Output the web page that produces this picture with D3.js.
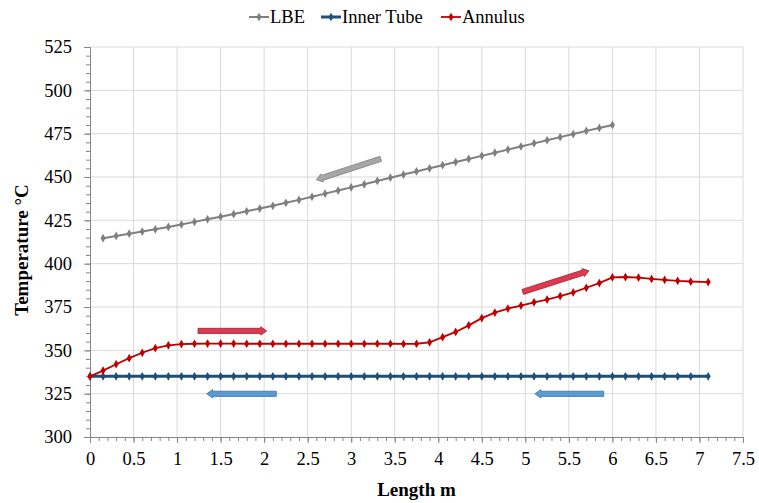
<!DOCTYPE html>
<html lang="en">
    <head>
        <meta charset="utf-8">
        <title>Temperature along length</title>
        <script src="https://d3js.org/d3.v7.min.js"></script>
        <style type="text/css">
          body { margin: 0; background: #fff; }
          svg { display: block; }
          text { font-family: "Liberation Serif", "Times New Roman", serif; fill: #000; }
          .grid line { stroke: #d9d9d9; stroke-width: 1; }
          .axis path, .axis line { stroke: #868686; }
          .axis-title { font-weight: bold; font-size: 19px; }
        </style>
    </head>
    <body>
        <script type="text/javascript">

         // lengths (m) and temperatures (°C)
         var lbeX = [0.15, 0.30, 0.45, 0.60, 0.75, 0.90, 1.05, 1.20, 1.35, 1.50,
                     1.65, 1.80, 1.95, 2.10, 2.25, 2.40, 2.55, 2.70, 2.85, 3.00,
                     3.15, 3.30, 3.45, 3.60, 3.75, 3.90, 4.05, 4.20, 4.35, 4.50,
                     4.65, 4.80, 4.95, 5.10, 5.25, 5.40, 5.55, 5.70, 5.85, 6.00];
         var lbeT = [414.7, 416.0, 417.3, 418.5, 419.8, 421.2, 422.6, 424.1, 425.6, 427.1,
                     428.6, 430.2, 431.8, 433.4, 435.1, 436.8, 438.6, 440.4, 442.2, 444.0,
                     445.8, 447.7, 449.6, 451.4, 453.2, 455.0, 456.8, 458.6, 460.4, 462.2,
                     464.0, 465.8, 467.6, 469.4, 471.2, 473.0, 474.8, 476.6, 478.3, 480.0];

         var tubeX = [0.00, 0.15, 0.30, 0.45, 0.60, 0.75, 0.90, 1.05, 1.20, 1.35,
                      1.50, 1.65, 1.80, 1.95, 2.10, 2.25, 2.40, 2.55, 2.70, 2.85,
                      3.00, 3.15, 3.30, 3.45, 3.60, 3.75, 3.90, 4.05, 4.20, 4.35,
                      4.50, 4.65, 4.80, 4.95, 5.10, 5.25, 5.40, 5.55, 5.70, 5.85,
                      6.00, 6.15, 6.30, 6.45, 6.60, 6.75, 6.90, 7.10];
         var innerT = [335, 335, 335, 335, 335, 335, 335, 335, 335, 335,
                       335, 335, 335, 335, 335, 335, 335, 335, 335, 335,
                       335, 335, 335, 335, 335, 335, 335, 335, 335, 335,
                       335, 335, 335, 335, 335, 335, 335, 335, 335, 335,
                       335, 335, 335, 335, 335, 335, 335, 335];
         var annulusT = [335.0, 338.3, 342.0, 345.5, 348.6, 351.3, 352.9, 353.6, 353.8, 353.9,
                         353.9, 353.9, 353.8, 353.8, 353.8, 353.8, 353.8, 353.8, 353.8, 353.8,
                         353.8, 353.8, 353.8, 353.8, 353.7, 353.8, 354.6, 357.6, 360.6, 364.4,
                         368.6, 371.8, 374.1, 375.8, 377.7, 379.3, 381.3, 383.4, 386.1, 388.8,
                         392.1, 392.3, 392.0, 391.2, 390.7, 390.1, 389.7, 389.4];

         var seriesNames = ["LBE", "Inner Tube", "Annulus"];
         var xTicks = [0, 0.5, 1, 1.5, 2, 2.5, 3, 3.5, 4, 4.5, 5, 5.5, 6, 6.5, 7, 7.5];
         var yTicks = [300, 325, 350, 375, 400, 425, 450, 475, 500, 525];

         // flow-direction arrows, tail -> head, in data units
         var flowArrows = [
             {x0: 3.34, y0: 460.5, x1: 2.60, y1: 448.4, kind: "lbe"},
             {x0: 1.24, y0: 361.2, x1: 2.03, y1: 361.2, kind: "annulus"},
             {x0: 4.97, y0: 383.7, x1: 5.73, y1: 395.9, kind: "annulus"},
             {x0: 2.14, y0: 324.9, x1: 1.34, y1: 324.9, kind: "tube"},
             {x0: 5.90, y0: 324.9, x1: 5.11, y1: 324.9, kind: "tube"}
         ];

         var w = 759, h = 503;
         var margin = {left: 90, right: 16, top: 47, bottom: 66};

         var lineColor = {lbe: "#7f7f7f", tube: "#1f4e79", annulus: "#c00000"};
         var arrowFill = {lbe: "#a6a6a6", tube: "#5b9bd5", annulus: "#dc3a50"};
         var arrowStroke = {lbe: "#7f7f7f", tube: "#41719c", annulus: "#a5202f"};

         var svg = d3.select("body").append("svg")
                     .attr("width", w)
                     .attr("height", h);

         var x = d3.scaleLinear().domain([0, 7.5]).range([margin.left, w - margin.right]);
         var y = d3.scaleLinear().domain([300, 525]).range([h - margin.bottom, margin.top]);

         // gridlines
         var grid = svg.append("g").attr("class", "grid");
         grid.selectAll(".gx").data(xTicks.slice(1)).enter().append("line")
             .attr("x1", function (d) { return x(d); })
             .attr("x2", function (d) { return x(d); })
             .attr("y1", y(300)).attr("y2", y(525));
         grid.selectAll(".gy").data(yTicks.slice(1)).enter().append("line")
             .attr("y1", function (d) { return y(d); })
             .attr("y2", function (d) { return y(d); })
             .attr("x1", x(0)).attr("x2", x(7.5));

         // minor ticks
         var xMinor = d3.range(0, 76).map(function (i) { return i / 10; });
         var yMinor = d3.range(300, 526, 5);
         svg.append("g").attr("class", "axis")
            .attr("transform", "translate(0," + y(300) + ")")
            .call(d3.axisBottom(x).tickValues(xMinor).tickSize(4).tickFormat(""));
         svg.append("g").attr("class", "axis")
            .attr("transform", "translate(" + x(0) + ",0)")
            .call(d3.axisLeft(y).tickValues(yMinor).tickSize(4).tickFormat(""));

         // major axes
         svg.append("g").attr("class", "axis")
            .attr("transform", "translate(0," + y(300) + ")")
            .call(d3.axisBottom(x).tickValues(xTicks).tickSize(6).tickSizeOuter(0).tickPadding(9)
                    .tickFormat(function (d) { return String(d); }));
         svg.append("g").attr("class", "axis")
            .attr("transform", "translate(" + x(0) + ",0)")
            .call(d3.axisLeft(y).tickValues(yTicks).tickSize(6).tickSizeOuter(0).tickPadding(12));
         svg.selectAll(".axis text")
            .style("font-family", "'Liberation Serif', serif")
            .style("font-size", "18.5px")
            .attr("fill", "#000");

         // axis titles
         svg.append("text").attr("class", "axis-title")
            .attr("x", x(3.75)).attr("y", 496)
            .attr("text-anchor", "middle")
            .text("Length m");
         svg.append("text").attr("class", "axis-title")
            .attr("transform", "translate(28,250)rotate(-90)")
            .attr("text-anchor", "middle")
            .text("Temperature °C");

         // series
         var series = [
             {name: seriesNames[0], key: "lbe", xs: lbeX, ys: lbeT, width: 2},
             {name: seriesNames[1], key: "tube", xs: tubeX, ys: innerT, width: 3},
             {name: seriesNames[2], key: "annulus", xs: tubeX, ys: annulusT, width: 1.8}
         ];

         var line = d3.line()
                      .x(function (d) { return x(d[0]); })
                      .y(function (d) { return y(d[1]); });
         var marker = d3.symbol().type(d3.symbolDiamond).size(22);

         series.forEach(function (s) {
             var pts = s.xs.map(function (v, i) { return [v, s.ys[i]]; });
             var g = svg.append("g").attr("class", "series " + s.key);
             g.append("path")
              .attr("d", line(pts))
              .attr("fill", "none")
              .attr("stroke", lineColor[s.key])
              .attr("stroke-width", s.width);
             g.selectAll("path.mk").data(pts).enter().append("path")
              .attr("class", "mk")
              .attr("d", marker)
              .attr("transform", function (d) { return "translate(" + x(d[0]) + "," + y(d[1]) + ")"; })
              .attr("fill", lineColor[s.key]);
         });

         // block arrows
         function arrowPath(a) {
             var x0 = x(a.x0), y0 = y(a.y0), x1 = x(a.x1), y1 = y(a.y1);
             var dx = x1 - x0, dy = y1 - y0, len = Math.sqrt(dx * dx + dy * dy);
             var ux = dx / len, uy = dy / len, nx = -uy, ny = ux;
             var sw = 2.6, hw = 4.2, hl = 6;
             var bx = x1 - ux * hl, by = y1 - uy * hl;
             var p = [
                 [x0 + nx * sw, y0 + ny * sw],
                 [bx + nx * sw, by + ny * sw],
                 [bx + nx * hw, by + ny * hw],
                 [x1, y1],
                 [bx - nx * hw, by - ny * hw],
                 [bx - nx * sw, by - ny * sw],
                 [x0 - nx * sw, y0 - ny * sw]
             ];
             return "M" + p.map(function (q) { return q[0].toFixed(1) + "," + q[1].toFixed(1); }).join("L") + "Z";
         }
         svg.append("g").selectAll("path").data(flowArrows).enter().append("path")
            .attr("d", arrowPath)
            .attr("fill", function (d) { return arrowFill[d.kind]; })
            .attr("stroke", function (d) { return arrowStroke[d.kind]; })
            .attr("stroke-width", 0.8);

         // legend
         var legendX = [249, 321, 441];
         var legend = svg.append("g").attr("class", "legend");
         series.forEach(function (s, i) {
             var lx = legendX[i];
             legend.append("line")
                   .attr("x1", lx).attr("x2", lx + 20)
                   .attr("y1", 17).attr("y2", 17)
                   .attr("stroke", lineColor[s.key])
                   .attr("stroke-width", s.width);
             legend.append("path")
                   .attr("d", marker)
                   .attr("transform", "translate(" + (lx + 10) + ",17)")
                   .attr("fill", lineColor[s.key]);
             legend.append("text")
                   .attr("x", lx + 21).attr("y", 23)
                   .style("font-size", "18.5px")
                   .text(s.name);
         });

        </script>
    </body>
</html>
